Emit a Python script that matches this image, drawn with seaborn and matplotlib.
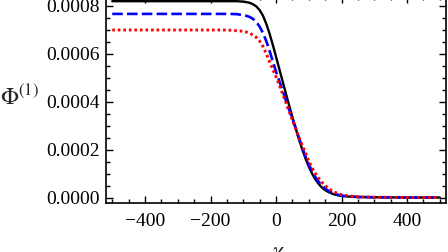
import numpy as np
import pandas as pd
import matplotlib
matplotlib.use('Agg')
import matplotlib.pyplot as plt
import seaborn as sns
from matplotlib.ticker import MultipleLocator, FormatStrFormatter

# values
chi = [-500, -300, -200, -160, -140, -120, -110, -100, -90, -80, -70, -60, -50,
       -40, -30, -20, -10, 0, 10, 20, 30, 40, 50, 60, 70, 80, 90, 100, 110, 120,
       130, 140, 150, 160, 170, 180, 190, 200, 220, 250, 300, 400, 500]
phi_black = [0.000818, 0.000818, 0.000818, 0.000818, 0.000818, 0.000818, 0.000817,
             0.000816, 0.000814, 0.000811, 0.000805, 0.000796, 0.000781, 0.000758,
             0.000725, 0.000684, 0.000637, 0.000587, 0.000536, 0.000485, 0.000434,
             0.000384, 0.000335, 0.000288, 0.000243, 0.000201, 0.000163, 0.000129,
             0.000100, 0.000076, 0.000057, 0.000042, 0.000031, 0.000023, 0.000017,
             0.000012, 0.000009, 0.000007, 0.000004, 0.000002, 0.000001, 0.0, 0.0]
phi_blue = [0.000765, 0.000765, 0.000765, 0.000765, 0.000765, 0.000764, 0.000762,
            0.000760, 0.000757, 0.000752, 0.000744, 0.000731, 0.000712, 0.000686,
            0.000653, 0.000613, 0.000568, 0.000525, 0.000485, 0.000446, 0.000406,
            0.000367, 0.000328, 0.000290, 0.000249, 0.000208, 0.000172, 0.000139,
            0.000110, 0.000086, 0.000066, 0.000050, 0.000038, 0.000028, 0.000021,
            0.000015, 0.000011, 0.000008, 0.0000045, 0.0000022, 0.000001, 0.0, 0.0]
phi_red = [0.000698, 0.000698, 0.000698, 0.000698, 0.000697, 0.000695, 0.000694,
           0.000692, 0.000689, 0.000684, 0.000677, 0.000667, 0.000652, 0.000630,
           0.000600, 0.000566, 0.000535, 0.000503, 0.000469, 0.000433, 0.000396,
           0.000359, 0.000322, 0.000286, 0.000251, 0.000218, 0.000186, 0.000152,
           0.000125, 0.000101, 0.000081, 0.000064, 0.000050, 0.000038, 0.000029,
           0.000022, 0.000016, 0.000012, 0.0000065, 0.000003, 0.000001, 0.0, 0.0]

sns.set_style('ticks')
plt.rcParams['font.family'] = ['Liberation Serif', 'DejaVu Serif']
plt.rcParams['mathtext.fontset'] = 'stix'

fig = plt.figure(figsize=(4.48, 2.52), dpi=100)
ax = fig.add_axes([105.7 / 448, 49 / 252, 340.6 / 448, 207.1 / 252])

df = pd.DataFrame({'chi': chi, 'black': phi_black, 'blue': phi_blue, 'red': phi_red})

sns.lineplot(data=df, x='chi', y='black', ax=ax, color='black', lw=1.7,
             sort=False, solid_joinstyle='round')
sns.lineplot(data=df, x='chi', y='blue', ax=ax, color=(0, 0, 1), lw=1.9,
             linestyle=(0, (4.0, 1.6)), sort=False)
sns.lineplot(data=df, x='chi', y='red', ax=ax, color=(1, 0, 0), lw=2.1,
             linestyle=(0, (0.9, 1.0)), sort=False)

ax.set_xlim(-520, 520)
ax.set_ylim(-0.0000229, 0.00084)

ax.xaxis.set_major_locator(MultipleLocator(200))
ax.xaxis.set_minor_locator(MultipleLocator(50))
ax.yaxis.set_major_locator(MultipleLocator(0.0002))
ax.yaxis.set_minor_locator(MultipleLocator(0.00005))
ax.yaxis.set_major_formatter(FormatStrFormatter('%.4f'))

ax.tick_params(which='both', direction='in', top=True, right=True, width=1.0,
               labelsize=14, colors='black')
ax.tick_params(which='major', length=5)
ax.tick_params(which='minor', length=3)
ax.tick_params(axis='x', which='major', pad=7)
ax.tick_params(axis='y', which='major', pad=4)
for sp in ax.spines.values():
    sp.set_linewidth(1.2)
    sp.set_color('black')

ax.set_ylabel(r'$\Phi^{(1)}$', fontsize=17, rotation=0, ha='center', va='center')
ax.yaxis.set_label_coords(-0.254, 0.507)
ax.set_xlabel(r'$\chi$', fontsize=17, va='top')
ax.xaxis.set_label_coords(0.503, -0.198)

fig.savefig('out.png', dpi=100)
